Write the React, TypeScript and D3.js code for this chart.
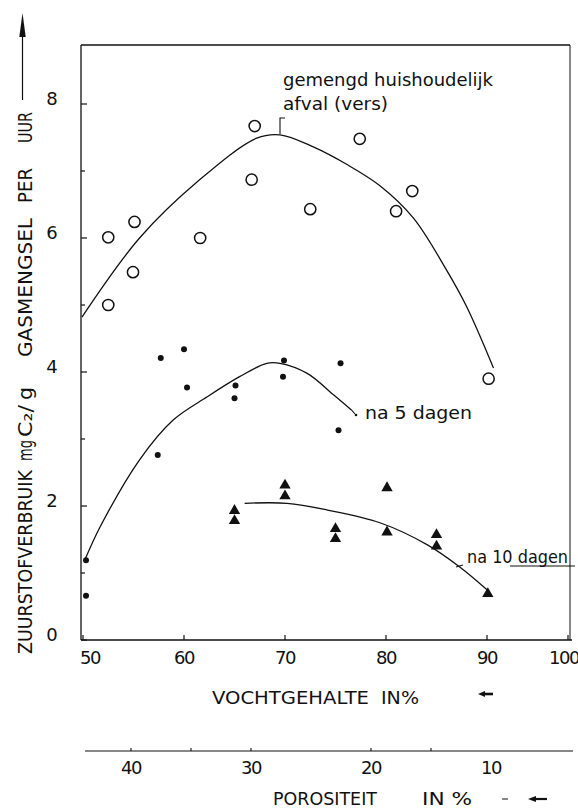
import React from "react";
import * as d3 from "d3";

// ---- data ----
// open circles: gemengd huishoudelijk afval (vers)
const freshX = [52.5, 55.1, 54.95, 52.5, 61.6, 67.0, 66.7, 77.4, 72.5, 82.6, 81.0, 90.2];
const freshY = [6.01, 6.24, 5.49, 5.0, 6.0, 7.67, 6.87, 7.48, 6.43, 6.7, 6.4, 3.9];
// filled dots: na 5 dagen
const day5X = [50.3, 50.3, 57.4, 57.7, 60.0, 60.3, 65.1, 65.0, 69.9, 69.8, 75.5, 75.3];
const day5Y = [1.19, 0.66, 2.76, 4.21, 4.34, 3.77, 3.8, 3.61, 4.17, 3.93, 4.13, 3.13];
// filled triangles: na 10 dagen
const day10X = [65.0, 65.0, 70.0, 70.0, 75.0, 75.0, 80.1, 80.1, 85.0, 85.0, 90.1];
const day10Y = [1.93, 1.78, 2.31, 2.15, 1.66, 1.51, 2.27, 1.61, 1.57, 1.4, 0.69];

// hand-drawn fitted curves
const freshFitX = [49.9, 55.6, 61.4, 67.2, 69.5, 72.8, 76.1, 79.4, 82.7, 86.0, 88.0, 90.8];
const freshFitY = [4.82, 6.0, 6.85, 7.49, 7.54, 7.36, 7.1, 6.78, 6.3, 5.52, 4.97, 4.06];
const day5FitX = [50.2, 51.7, 55.6, 58.9, 62.3, 65.5, 68.2, 69.5, 72.2, 74.8, 76.6];
const day5FitY = [1.2, 1.69, 2.69, 3.28, 3.63, 3.93, 4.13, 4.13, 3.98, 3.66, 3.43];
const day10FitX = [66.0, 70.2, 74.2, 79.4, 84.1, 87.3, 90.0];
const day10FitY = [2.04, 2.04, 1.94, 1.75, 1.42, 1.09, 0.75];

// ticks
const xTicks = [50, 60, 70, 80, 90, 100];
const yMajor = [0, 2, 4, 6, 8];
const yMinor = [1, 3, 5, 7];
const porTicks = [40, 35, 30, 20, 15];
const porLabels = [40, 30, 20, 10];

const FONT = "'DejaVu Sans', sans-serif";

export default function App() {
  const x = d3.scaleLinear().domain([50, 90, 100]).range([83, 487, 568]);
  const y = d3.scaleLinear().domain([0, 8]).range([640, 104]);
  const por = d3.scaleLinear().domain([40, 10]).range([131, 491]);

  const left = 81;
  const right = 570;
  const top = 45;
  const bottom = y(0);

  const line = d3
    .line<[number, number]>()
    .x((d) => x(d[0]))
    .y((d) => y(d[1]))
    .curve(d3.curveCatmullRom.alpha(0.5));

  const freshFit = line(d3.zip(freshFitX, freshFitY) as [number, number][]) || "";
  const day5Fit = line(d3.zip(day5FitX, day5FitY) as [number, number][]) || "";
  const day10Fit = line(d3.zip(day10FitX, day10FitY) as [number, number][]) || "";

  const tri = d3.symbol().type(d3.symbolTriangle).size(56)() || "";

  // y label pieces: [text, bottomY, topY]
  const yLabel: [string, number, number][] = [
    ["ZUURSTOFVERBRUIK", 654, 470],
    ["mg", 461, 440],
    ["C\u2082/", 437, 405],
    ["g", 400, 387],
    ["GASMENGSEL", 357, 218],
    ["PER", 203, 168],
    ["UUR", 143, 112],
  ];

  return (
    <svg
      width={578}
      height={810}
      style={{ position: "absolute", left: 0, top: 0, background: "#fff" }}
      fontFamily={FONT}
    >
      <rect x={0} y={0} width={578} height={810} fill="#fff" />

      {/* frame */}
      <g stroke="#111" strokeWidth={1.3} fill="none">
        <line x1={left} y1={top} x2={right} y2={top} />
        <line x1={left} y1={top} x2={left} y2={bottom} />
        <line x1={left} y1={bottom} x2={right + 2} y2={bottom} />
        <line x1={right} y1={top} x2={right} y2={bottom} strokeWidth={1} />
      </g>

      {/* y ticks */}
      <g stroke="#111" strokeWidth={1.2}>
        {yMajor.map((v) => (
          <line key={"ym" + v} x1={left} x2={left + 6} y1={y(v)} y2={y(v)} />
        ))}
        {yMinor.map((v) => (
          <line key={"yn" + v} x1={left} x2={left + 4} y1={y(v)} y2={y(v)} />
        ))}
      </g>
      <g fontSize={18} textAnchor="middle" fill="#111">
        {yMajor.map((v) => (
          <text key={"yl" + v} x={52} y={y(v) + 1}>
            {v}
          </text>
        ))}
      </g>

      {/* x ticks */}
      <g stroke="#111" strokeWidth={1.2}>
        {xTicks.map((v) => (
          <line key={"xt" + v} x1={x(v)} x2={x(v)} y1={bottom} y2={bottom - 5} />
        ))}
      </g>
      <g fontSize={18} textAnchor="middle" fill="#111" letterSpacing={-1.5}>
        {xTicks.map((v) => (
          <text key={"xl" + v} x={x(v) + (v === 50 ? 7 : v === 100 ? -4 : 0)} y={664}>
            {v}
          </text>
        ))}
      </g>

      {/* y axis label */}
      <g fontSize={20} fill="#111">
        {yLabel.map(([t, yb, yt]) => (
          <text
            key={t}
            transform={`translate(32,${yb}) rotate(-90)`}
            textLength={yb - yt}
            lengthAdjust="spacingAndGlyphs"
          >
            {t}
          </text>
        ))}
      </g>
      <line x1={22.5} x2={22.5} y1={100} y2={30} stroke="#111" strokeWidth={1.2} />
      <path d="M22.5,13 L19.3,37 L25.7,37 Z" fill="#111" />

      {/* fitted curves */}
      <g fill="none" stroke="#111" strokeWidth={1.3}>
        <path d={freshFit} />
        <path d={day5Fit} />
        <path d={day10Fit} />
      </g>

      {/* open circles */}
      <g fill="none" stroke="#111" strokeWidth={1.5}>
        {freshX.map((v, i) => (
          <circle key={"c" + i} cx={x(v)} cy={y(freshY[i])} r={5.6} />
        ))}
      </g>
      {/* dots */}
      <g fill="#111">
        {day5X.map((v, i) => (
          <circle key={"d" + i} cx={x(v)} cy={y(day5Y[i])} r={3} />
        ))}
      </g>
      {/* triangles */}
      <g fill="#111">
        {day10X.map((v, i) => (
          <path key={"t" + i} d={tri} transform={`translate(${x(v)},${y(day10Y[i])})`} />
        ))}
      </g>

      {/* annotations */}
      <g fill="#111" fontSize={17}>
        <text x={283} y={86} textLength={210} lengthAdjust="spacingAndGlyphs">
          gemengd huishoudelijk
        </text>
        <text x={283} y={110} textLength={105} lengthAdjust="spacingAndGlyphs">
          afval (vers)
        </text>
        <text x={365} y={419} textLength={107} lengthAdjust="spacingAndGlyphs">
          na 5 dagen
        </text>
        <text x={467} y={563} textLength={101} lengthAdjust="spacingAndGlyphs">
          na 10 dagen
        </text>
      </g>
      <g stroke="#111" strokeWidth={1.1} fill="none">
        <path d="M280,134 L280,118 L285,118" />
        <line x1={x(76.6)} y1={y(3.43)} x2={355} y2={414} />
        <line x1={456} y1={567} x2={463} y2={565} />
        <line x1={510} y1={566} x2={575} y2={566} />
      </g>
      <circle cx={356} cy={415} r={1.3} fill="#111" />

      {/* bottom: moisture title */}
      <g fill="#111" fontSize={17}>
        <text x={212} y={704} textLength={157} lengthAdjust="spacingAndGlyphs">
          VOCHTGEHALTE
        </text>
        <text x={381} y={704} textLength={38} lengthAdjust="spacingAndGlyphs">
          IN%
        </text>
      </g>
      <path d="M478,694 L485,691 L485,697 Z" fill="#111" />
      <line x1={484} x2={493} y1={694} y2={694} stroke="#111" strokeWidth={2.6} />

      {/* porosity axis */}
      <line x1={85} x2={573} y1={751} y2={751} stroke="#111" strokeWidth={1.2} />
      <g stroke="#111" strokeWidth={1.1}>
        {porTicks.map((v) => (
          <line key={"pt" + v} x1={por(v)} x2={por(v)} y1={751} y2={748} />
        ))}
      </g>
      <g fontSize={18} textAnchor="middle" fill="#111" letterSpacing={-1.5}>
        {porLabels.map((v) => (
          <text key={"pl" + v} x={por(v)} y={774}>
            {v}
          </text>
        ))}
      </g>
      <g fill="#111" fontSize={17}>
        <text x={273} y={805} textLength={104} lengthAdjust="spacingAndGlyphs">
          POROSITEIT
        </text>
        <text x={422} y={805} textLength={50} lengthAdjust="spacingAndGlyphs">
          IN %
        </text>
      </g>
      <line x1={502} x2={508} y1={799} y2={799} stroke="#111" strokeWidth={1} />
      <path d="M528,799 L536,796 L536,802 Z" fill="#111" />
      <line x1={535} x2={547} y1={799} y2={799} stroke="#111" strokeWidth={2.2} />
    </svg>
  );
}
